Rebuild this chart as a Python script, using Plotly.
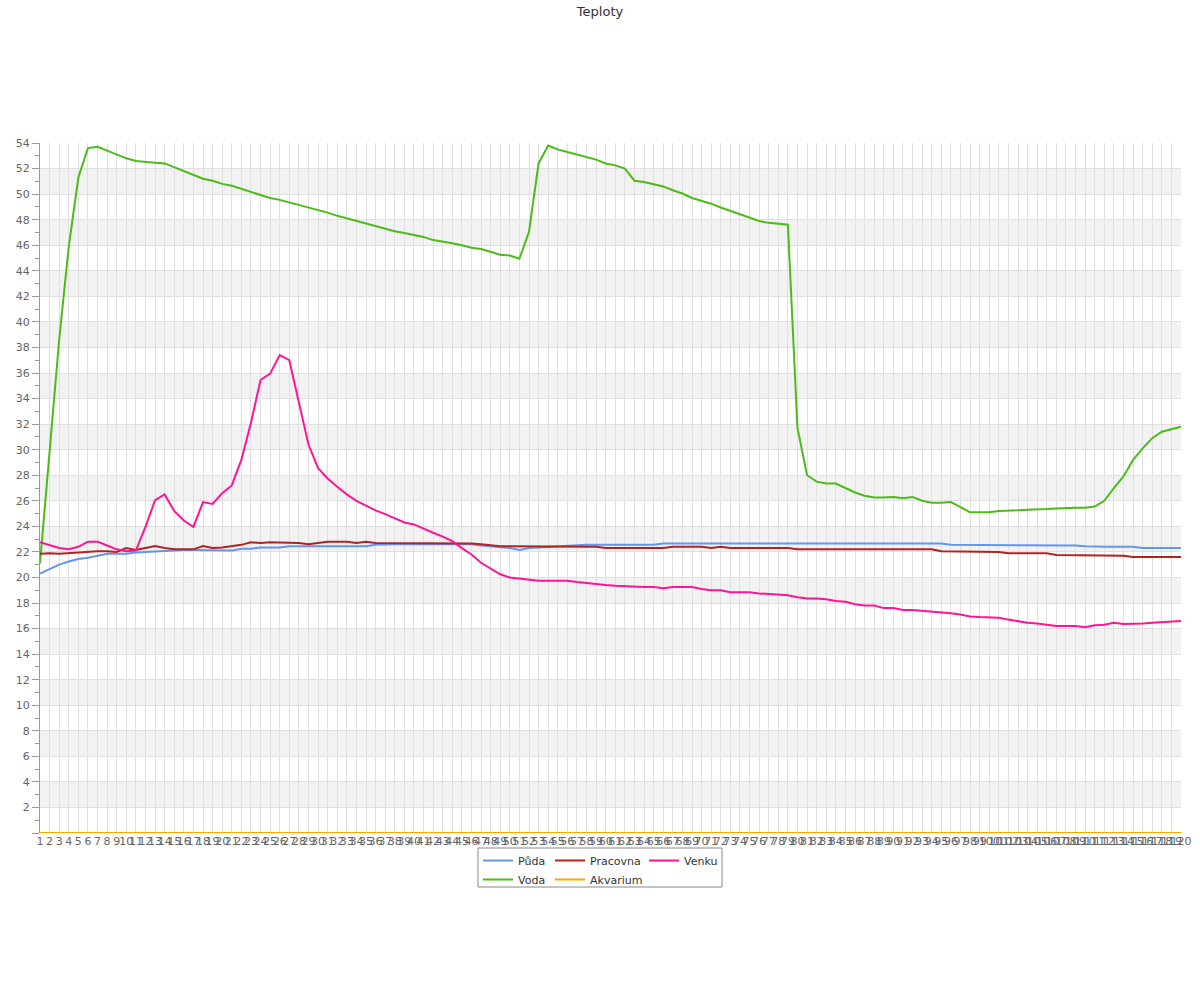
import plotly.graph_objects as go

# ---------------- data ----------------
categories = list(range(1, 121))

puda = [
    20.3, 20.65, 21.0, 21.25, 21.45, 21.55, 21.7, 21.85, 21.85, 21.85,
    21.95, 22.0, 22.0, 22.05, 22.1, 22.15, 22.15, 22.15, 22.15, 22.15,
    22.1, 22.25, 22.25, 22.35, 22.35, 22.35, 22.45, 22.45, 22.45, 22.45,
    22.45, 22.45, 22.45, 22.45, 22.45, 22.55, 22.6, 22.6, 22.6, 22.6,
    22.6, 22.6, 22.6, 22.6, 22.6, 22.6, 22.5, 22.45, 22.35, 22.3,
    22.15, 22.3, 22.35, 22.4, 22.45, 22.5, 22.5, 22.55, 22.55, 22.55,
    22.55, 22.55, 22.55, 22.55, 22.55, 22.65, 22.65, 22.65, 22.65, 22.65,
    22.65, 22.65, 22.65, 22.7, 22.7, 22.7, 22.7, 22.7, 22.7, 22.7,
    22.7, 22.7, 22.7, 22.65, 22.7, 22.7, 22.7, 22.65, 22.65, 22.65,
    22.7, 22.7, 22.65, 22.65, 22.65, 22.55, 22.55, 22.55, 22.55, 22.55,
    22.55, 22.55, 22.5, 22.5, 22.5, 22.5, 22.5, 22.5, 22.5, 22.45,
    22.4, 22.4, 22.4, 22.4, 22.4, 22.3, 22.3, 22.3, 22.3, 22.3,
]

voda = [
    21.1, 30.0, 38.6, 45.9, 51.3, 53.6, 53.7, 53.4, 53.1, 52.8,
    52.6, 52.5, 52.45, 52.4, 52.1, 51.8, 51.5, 51.2, 51.05, 50.8,
    50.65, 50.4, 50.2, 49.9, 49.7, 49.55, 49.35, 49.15, 49.0, 48.75,
    48.55, 48.3, 48.1, 47.85, 47.65, 47.5, 47.3, 47.1, 46.95, 46.8,
    46.65, 46.4, 46.3, 46.15, 46.0, 45.8, 45.7, 45.5, 45.25, 45.2,
    44.95, 47.05, 52.4, 53.8, 53.5, 53.3, 53.1, 52.9, 52.7, 52.4,
    52.25, 52.0, 51.05, 50.95, 50.8, 50.6, 50.3, 50.05, 49.7, 49.5,
    49.25, 48.95, 48.7, 48.4, 48.2, 47.9, 47.75, 47.65, 47.6, 31.7,
    28.0, 27.5, 27.35, 27.35, 27.0, 26.65, 26.4, 26.25, 26.25, 26.3,
    26.2, 26.3, 26.0, 25.85, 25.85, 25.9, 25.5, 25.1, 25.1, 25.1,
    25.2, 25.2, 25.25, 25.3, 25.3, 25.35, 25.4, 25.45, 25.45, 25.45,
    25.55, 26.0, 27.0, 27.9, 29.2, 30.1, 30.9, 31.4, 31.6, 31.8,
]

pracovna = [
    21.85, 21.9, 21.85, 21.9, 21.95, 22.05, 22.05, 22.05, 22.0, 22.3,
    22.15, 22.3, 22.45, 22.3, 22.2, 22.2, 22.2, 22.45, 22.3, 22.35,
    22.45, 22.55, 22.75, 22.7, 22.75, 22.75, 22.75, 22.7, 22.6, 22.7,
    22.8, 22.8, 22.8, 22.7, 22.8, 22.7, 22.7, 22.7, 22.7, 22.7,
    22.7, 22.7, 22.7, 22.7, 22.7, 22.65, 22.6, 22.5, 22.45, 22.45,
    22.45, 22.45, 22.45, 22.45, 22.45, 22.4, 22.4, 22.4, 22.4, 22.3,
    22.3, 22.3, 22.3, 22.3, 22.3, 22.3, 22.4, 22.4, 22.4, 22.4,
    22.3, 22.4, 22.3, 22.3, 22.3, 22.3, 22.3, 22.3, 22.3, 22.2,
    22.2, 22.2, 22.2, 22.2, 22.2, 22.2, 22.2, 22.2, 22.2, 22.2,
    22.2, 22.2, 22.2, 22.2, 22.05, 22.05, 22.05, 22.05, 22.0, 22.0,
    22.0, 21.9, 21.9, 21.9, 21.9, 21.9, 21.75, 21.75, 21.75, 21.7,
    21.7, 21.7, 21.7, 21.7, 21.6, 21.6, 21.6, 21.6, 21.6, 21.6,
]

akvarium = [
    0, 0, 0, 0, 0, 0, 0, 0, 0, 0,
    0, 0, 0, 0, 0, 0, 0, 0, 0, 0,
    0, 0, 0, 0, 0, 0, 0, 0, 0, 0,
    0, 0, 0, 0, 0, 0, 0, 0, 0, 0,
    0, 0, 0, 0, 0, 0, 0, 0, 0, 0,
    0, 0, 0, 0, 0, 0, 0, 0, 0, 0,
    0, 0, 0, 0, 0, 0, 0, 0, 0, 0,
    0, 0, 0, 0, 0, 0, 0, 0, 0, 0,
    0, 0, 0, 0, 0, 0, 0, 0, 0, 0,
    0, 0, 0, 0, 0, 0, 0, 0, 0, 0,
    0, 0, 0, 0, 0, 0, 0, 0, 0, 0,
    0, 0, 0, 0, 0, 0, 0, 0, 0, 0,
]

venku = [
    22.75, 22.5, 22.3, 22.2, 22.4, 22.8, 22.8, 22.5, 22.2, 22.05,
    22.1, 23.95, 26.05, 26.5, 25.2, 24.45, 23.95, 25.9, 25.75, 26.6,
    27.2, 29.2, 32.1, 35.45, 35.95, 37.4, 37.0, 33.7, 30.4, 28.55,
    27.75, 27.1, 26.5, 26.0, 25.6, 25.25, 24.95, 24.6, 24.3, 24.15,
    23.8, 23.5, 23.2, 22.85, 22.3, 21.8, 21.15, 20.7, 20.25, 20.0,
    19.9, 19.8, 19.75, 19.75, 19.75, 19.75, 19.65, 19.55, 19.5, 19.4,
    19.35, 19.3, 19.3, 19.25, 19.25, 19.15, 19.25, 19.25, 19.25, 19.1,
    19.0, 19.0, 18.85, 18.85, 18.85, 18.75, 18.7, 18.7, 18.6, 18.45,
    18.35, 18.35, 18.3, 18.15, 18.1, 17.9, 17.8, 17.8, 17.6, 17.6,
    17.45, 17.45, 17.4, 17.35, 17.3, 17.2, 17.1, 16.95, 16.9, 16.9,
    16.85, 16.7, 16.55, 16.45, 16.4, 16.3, 16.2, 16.2, 16.2, 16.1,
    16.25, 16.3, 16.45, 16.35, 16.35, 16.4, 16.45, 16.5, 16.55, 16.6,
]

y_tick_values = list(range(0, 55, 2))
y_tick_labels = ["" if v == 0 else str(v) for v in y_tick_values]

# ---------------- layout geometry (pixels) ----------------
W, H = 1200, 1000
L, R, T, B = 40, 19, 143, 167
PW, PH = W - L - R, H - T - B
FONT = "DejaVu Sans"


def px(x):
    return (x - L) / PW


def py(y):
    return (H - B - y) / PH


series = [
    ("Půda", puda, "#6495ED", "legend"),
    ("Voda", voda, "#4CBB17", "legend"),
    ("Pracovna", pracovna, "#B22222", "legend2"),
    ("Akvarium", akvarium, "#FFA500", "legend2"),
    ("Venku", venku, "#FF1493", "legend3"),
]

fig = go.Figure()
for name, vals, color, leg in series:
    fig.add_trace(go.Scatter(
        x=categories, y=vals, name=name, mode="lines",
        line=dict(color=color, width=2),
        legend=leg,
    ))

# alternating horizontal bands
shapes = []
for v in y_tick_values:
    if v % 4 == 2 and v + 2 <= 54:
        shapes.append(dict(type="rect", xref="paper", yref="y", x0=0, x1=1,
                           y0=v, y1=v + 2, fillcolor="#f2f2f2",
                           line=dict(width=0), layer="below"))

# legend frame
shapes.append(dict(type="rect", xref="paper", yref="paper",
                   x0=px(478), x1=px(722), y0=py(848), y1=py(887),
                   line=dict(color="#888888", width=1), fillcolor="rgba(0,0,0,0)",
                   layer="above"))

legend_common = dict(
    orientation="v", yanchor="top", xanchor="left",
    font=dict(family=FONT, size=11, color="#333333"),
    bgcolor="rgba(0,0,0,0)", borderwidth=0, tracegroupgap=0,
)

fig.update_layout(
    width=W, height=H,
    margin=dict(l=L, r=R, t=T, b=B, autoexpand=False),
    paper_bgcolor="white", plot_bgcolor="white",
    font=dict(family=FONT, size=11, color="#666666"),
    title=dict(text="Teploty", x=0.5, xanchor="center", y=1 - 11 / H,
               yanchor="middle", yref="container",
               font=dict(family=FONT, size=13, color="#333333")),
    showlegend=True,
    legend=dict(x=px(478), y=py(846), **legend_common),
    legend2=dict(x=px(550), y=py(846), **legend_common),
    legend3=dict(x=px(644), y=py(846), **legend_common),
    shapes=shapes,
    hovermode="x",
)

fig.update_xaxes(
    range=[1, 120], tickmode="linear", tick0=1, dtick=1, tickangle=0,
    showgrid=True, gridcolor="#e0e0e0", gridwidth=1,
    zeroline=False, showline=False, ticks="",
    tickfont=dict(family=FONT, size=11, color="#666666"),
)

fig.update_yaxes(
    range=[0, 54], tickmode="array", tickvals=y_tick_values, ticktext=y_tick_labels,
    showgrid=True, gridcolor="#e0e0e0", gridwidth=1,
    zeroline=False, showline=True, linecolor="#999999", linewidth=1,
    ticks="outside", ticklen=7, tickcolor="#999999",
    minor=dict(dtick=1, tick0=0, ticks="outside", ticklen=4, tickcolor="#999999", showgrid=False),
    tickfont=dict(family=FONT, size=11, color="#666666"),
)

fig.write_html("out.html", config={"displayModeBar": False},
               post_script="document.body.style.margin='0';")
